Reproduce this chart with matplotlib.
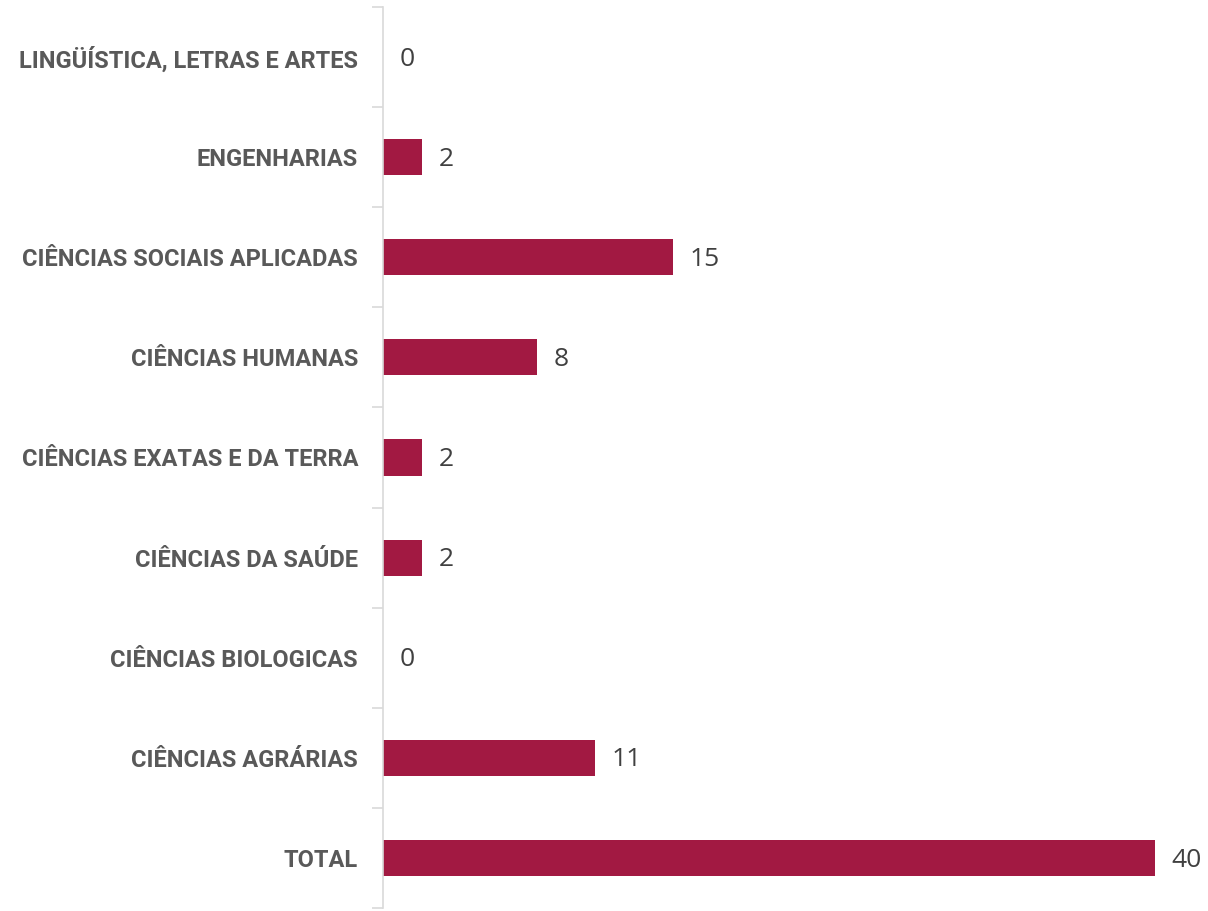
import matplotlib.pyplot as plt
import numpy as np
from matplotlib import font_manager

# data (bottom to top)
areas = ['TOTAL', 'CIÊNCIAS AGRÁRIAS', 'CIÊNCIAS BIOLOGICAS', 'CIÊNCIAS DA SAÚDE',
         'CIÊNCIAS EXATAS E DA TERRA', 'CIÊNCIAS HUMANAS',
         'CIÊNCIAS SOCIAIS APLICADAS', 'ENGENHARIAS', 'LINGÜÍSTICA, LETRAS E ARTES']
valores = [40, 11, 0, 2, 2, 8, 15, 2, 0]

bar_color = '#A21942'
W, H = 1208, 911

names = {f.name for f in font_manager.fontManager.ttflist}
if 'Liberation Sans Narrow' in names:
    cat_font, cat_size = 'Liberation Sans Narrow', 18
else:
    cat_font, cat_size = 'Roboto', 17

fig = plt.figure(figsize=(W/100, H/100), dpi=100)
left, right = 383, 1190
top, bottom = 7, 908
ax = fig.add_axes([left/W, 1-bottom/H, (right-left)/W, (bottom-top)/H])

y = np.arange(len(areas))
ax.barh(y, valores, height=0.36, color=bar_color)

px_per_unit = 19.3
ax.set_xlim(0, (right-left)/px_per_unit)
ax.set_ylim(-0.5, len(areas)-0.5)

for yi, v in zip(y, valores):
    ax.annotate(str(v), (v, yi), xytext=(12, -1.5), textcoords='offset points',
                va='center', ha='left', fontsize=19, color='#404040',
                family='Open Sans', annotation_clip=False)

ax.set_yticks(y)
ax.set_yticklabels(areas, fontsize=cat_size, fontweight='bold', color='#595959', family=cat_font)
ax.set_yticks(np.arange(-0.5, len(areas), 1), minor=True)
ax.tick_params(axis='y', which='major', length=0, pad=18)
ax.tick_params(axis='y', which='minor', length=8, color='#D9D9D9', width=1.2)
ax.set_xticks([])

for s in ['top', 'right', 'bottom']:
    ax.spines[s].set_visible(False)
ax.spines['left'].set_color('#D9D9D9')
ax.spines['left'].set_linewidth(1.2)

fig.savefig('out.png', dpi=100)
